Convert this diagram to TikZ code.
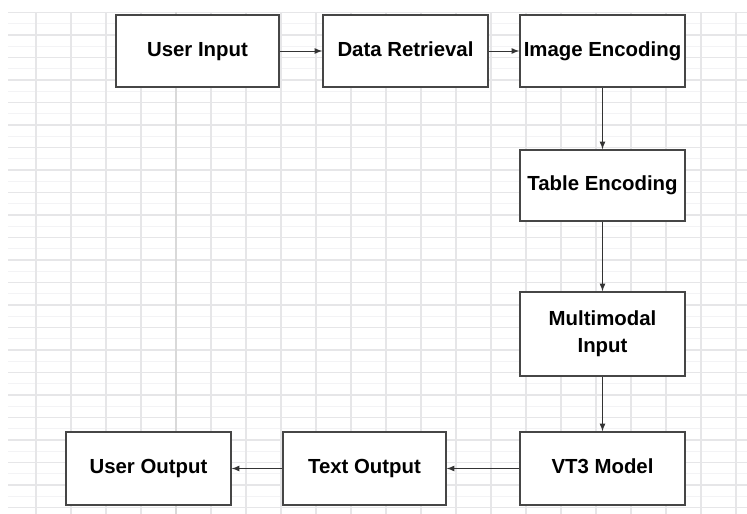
\documentclass[tikz,border=0pt]{standalone}
\usepackage{fontspec}
\setmainfont{Liberation Sans}
\usepackage{tikz}
\usetikzlibrary{positioning,arrows,calc}
\definecolor{colorbox} {RGB}{ 70, 70, 70}
\definecolor{colorgrid}{RGB}{230,230,232}
\definecolor{colorfine}{RGB}{243,243,245}

\begin{document}
\begin{tikzpicture}[
    font={\fontsize{11.6}{13.5}\selectfont\bfseries},
    >=latex,
    base/.style={draw=colorbox,line width=0.8pt,fill=white,rectangle,align=center,inner sep=2pt},
    solo/.style={text height=1.6ex,text depth=0.45ex},
    link/.style={->,line width=0.5pt,color=black!80}
]

    \useasboundingbox (0, 0) rectangle (14.94, -10.28);

    \foreach \y in {0.475,0.925,...,10.28}
        \draw[colorfine,line width=0.5pt] (0.16, -\y) -- (14.94, -\y);
    \foreach \y in {0.25,0.70,...,10.28}
        \draw[colorgrid,line width=0.6pt] (0.16, -\y) -- (14.94, -\y);
    \foreach \x in {0.72,1.42,...,14.94}
        \draw[colorgrid,line width=0.6pt] (\x, -0.24) -- (\x, -10.28);
    \draw[black!15,line width=0.6pt] (3.52, -0.24) -- (3.52, -10.28);

    \node[base,solo,minimum width=3.26cm,minimum height=1.44cm] (userin) at (3.95, -1.02) {User Input};
    \node[base,solo,minimum width=3.3cm,minimum height=1.44cm] (retrieval) at (8.11, -1.02) {Data Retrieval};
    \node[base,solo,minimum width=3.3cm,minimum height=1.44cm] (imgenc) at (12.05, -1.02) {Image Encoding};
    \node[base,solo,minimum width=3.3cm,minimum height=1.42cm] (tabenc) at (12.05, -3.71) {Table Encoding};
    \node[base,minimum width=3.3cm,minimum height=1.68cm] (multi) at (12.05, -6.68) {Multimodal\\[2pt]Input};
    \node[base,solo,minimum width=3.3cm,minimum height=1.46cm] (vtmodel) at (12.05, -9.37) {VT3 Model};
    \node[base,solo,minimum width=3.26cm,minimum height=1.46cm] (textout) at (7.29, -9.37) {Text Output};
    \node[base,solo,minimum width=3.3cm,minimum height=1.46cm] (userout) at (2.97, -9.37) {User Output};

    \draw[link] (userin) -- (retrieval);
    \draw[link] (retrieval) -- (imgenc);
    \draw[link] (imgenc) -- (tabenc);
    \draw[link] (tabenc) -- (multi);
    \draw[link] (multi) -- (vtmodel);
    \draw[link] (vtmodel) -- (textout);
    \draw[link] (textout) -- (userout);

\end{tikzpicture}
\end{document}
